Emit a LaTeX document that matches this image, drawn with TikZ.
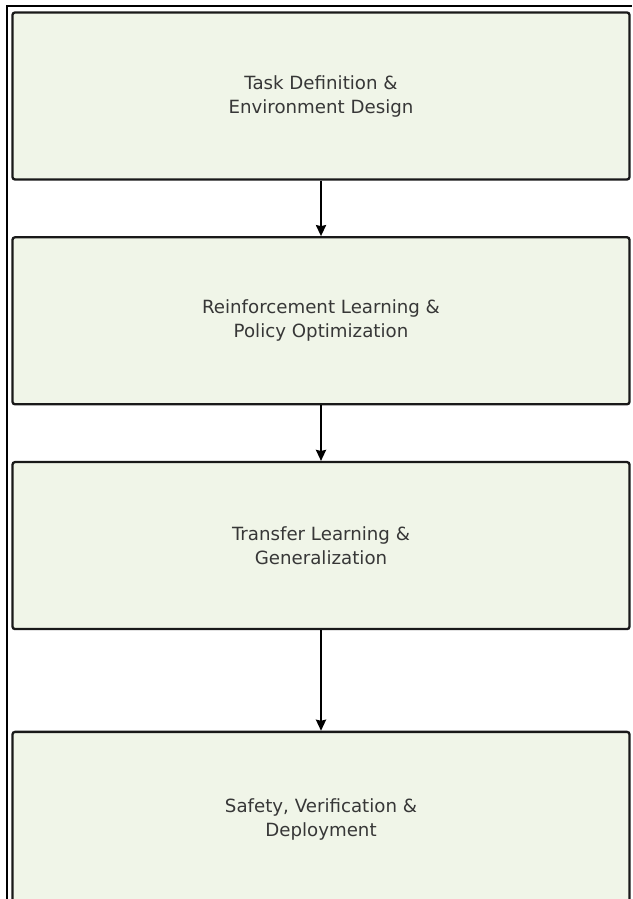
\documentclass[tikz,border=0pt]{standalone}
\usepackage{fontspec}
\setmainfont{DejaVu Sans}
\usepackage{xcolor}
\usepackage{tikz}
\usetikzlibrary{arrows.meta,positioning}
\definecolor{stagefill}{RGB}{240,245,232}
\definecolor{stageline}{RGB}{25,25,25}
\definecolor{stagetext}{RGB}{55,55,55}

\begin{document}
\begin{tikzpicture}[
    x=1pt, y=1pt,
    stage/.style={draw=stageline, fill=stagefill, line width=2.3pt, rounded corners=2.5pt,
        minimum width=617pt, minimum height=167pt, align=center,
        font=\fontsize{18.2}{24}\selectfont, text=stagetext},
    flow/.style={-{Stealth[length=11pt,width=10pt,inset=1pt]}, line width=2.2pt, draw=black},
    node distance=55.5pt,
]
    \useasboundingbox (0,0) rectangle (632,899);
    % Outer frame
    \draw[line width=2.2pt] (7,0) -- (7,893) -- (632,893);
    % Pipeline stages
    \node[stage] (task) at (321,803) {Task Definition \&\\Environment Design};
    \node[stage, below=of task] (rl) {Reinforcement Learning \&\\Policy Optimization};
    \node[stage, below=of rl] (transfer) {Transfer Learning \&\\Generalization};
    \node[stage, minimum height=176pt, below=100.5pt of transfer] (deploy) {Safety, Verification \&\\Deployment};
    % Arrows
    \draw[flow] (task) -- (rl);
    \draw[flow] (rl) -- (transfer);
    \draw[flow] (transfer) -- (deploy);
\end{tikzpicture}
\end{document}
